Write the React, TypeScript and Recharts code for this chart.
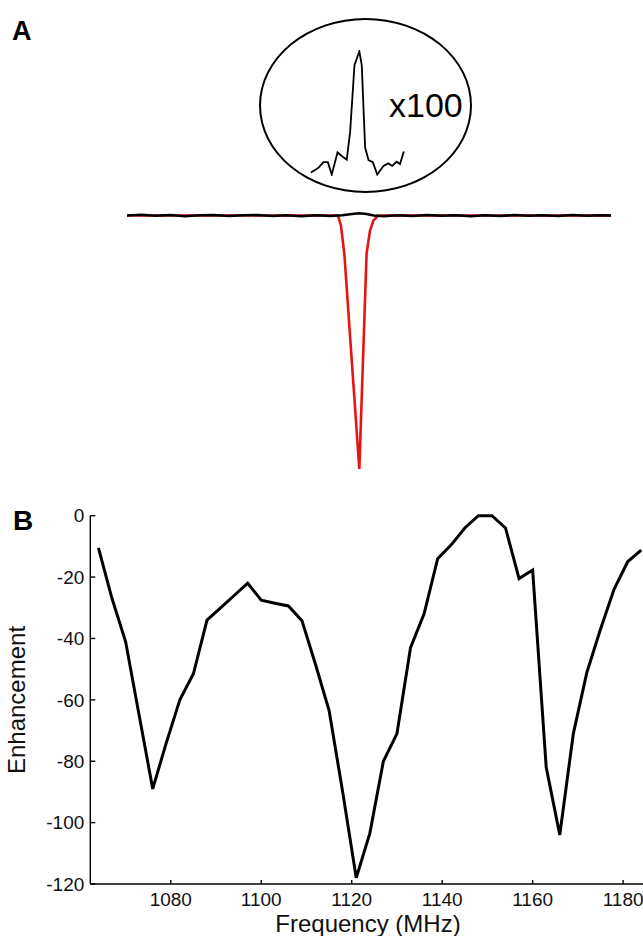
import { Line, LineChart, XAxis, YAxis } from 'recharts'

const FONT = '"Liberation Sans", Arial, sans-serif'

// Panel A: spectra (x = offset from resonance, arbitrary units)
const blackOffset = [-48, -45, -42, -39, -36, -33, -30, -27, -24, -21, -18, -15, -12, -9, -6, -3.5, -1.5, 0, 1.5, 3, 5, 8, 11, 14, 17, 20, 23, 26, 29, 32, 35, 38, 41, 44, 47, 50, 52]
const blackSignal = [0, 0.3, -0.1, 0.2, -0.3, 0.1, 0.2, -0.2, 0.1, 0.2, -0.2, 0.1, -0.3, 0.1, -0.2, 0.1, 0.6, 0.9, 0.6, 0, -0.3, 0.1, -0.2, 0.2, -0.1, 0.1, -0.3, 0.1, -0.2, 0.2, -0.1, 0.1, -0.2, 0.2, -0.1, 0.1, 0]

const redOffset = [-48, -20, -4.4, -3.8, -3.1, 0, 1.5, 2.2, 2.9, 3.9, 20, 52]
const redSignal = [0, 0, 0, -4, -15, -100, -15, -6, -2, 0, 0, 0]

// inset (x100 zoom of black trace)
const insetOffset = [-10, -8.5, -7.4, -6.5, -5.7, -4.5, -3.5, -2.6, -1.9, -1, 0, 0.5, 1.2, 1.9, 2.8, 3.7, 5, 6, 6.8, 7.7, 8.4, 9.2]
const insetSignal = [2.8, 6.3, 11, 11, 1.2, 18.7, 15.5, 13, 35, 88, 99, 88, 22.6, 12.7, 11, 1.2, 8, 10, 8, 11.3, 9.5, 19.4]

// Panel B
const frequency = [1064, 1067, 1070, 1073, 1076, 1079, 1082, 1085, 1088, 1091, 1094, 1097, 1100, 1103, 1106, 1109, 1112, 1115, 1118, 1121, 1124, 1127, 1130, 1133, 1136, 1139, 1142, 1145, 1148, 1151, 1154, 1157, 1160, 1163, 1166, 1169, 1172, 1175, 1178, 1181, 1184]
const enhancement = [-10.5, -27, -41, -65, -89, -74, -60, -51.5, -34, -30, -26, -22, -27.5, -28.5, -29.4, -34.2, -48.5, -63.5, -90, -118, -103.5, -80, -71, -43, -32, -14, -9.5, -4, 0, 0, -4, -20.5, -17.7, -82, -104, -71, -51, -37, -24, -15, -11.2]
const freqTicks = [1080, 1100, 1120, 1140, 1160, 1180]
const enhTicks = [0, -20, -40, -60, -80, -100, -120]

const zip = (xs: number[], ys: number[]) => xs.map((x, i) => ({ x, v: ys[i] }))

const blackData = zip(blackOffset, blackSignal)
const redData = zip(redOffset, redSignal)
const insetData = zip(insetOffset, insetSignal)
const bData = frequency.map((f, i) => ({ f, v: enhancement[i] }))

const abs = (top: number, height: number) => ({ position: 'absolute' as const, left: 0, top, width: 643, height })

export default function App() {
  return (
    <div style={{ position: 'absolute', left: 0, top: 0, width: 643, height: 936, background: '#fff', overflow: 'hidden' }}>
      {/* inset frame */}
      <div
        style={{
          position: 'absolute',
          left: 259,
          top: 18,
          width: 213,
          height: 175,
          border: '2.5px solid #000',
          borderRadius: '50%',
          boxSizing: 'border-box',
        }}
      />
      <div style={abs(0, 200)}>
        <LineChart width={643} height={200} data={insetData} margin={{ top: 50, right: 32, bottom: 24, left: 127 }}>
          <XAxis hide type="number" dataKey="x" domain={[-48, 52]} allowDataOverflow />
          <YAxis hide type="number" domain={[0, 100]} allowDataOverflow />
          <Line dataKey="v" stroke="#000" strokeWidth={1.8} dot={false} isAnimationActive={false} />
        </LineChart>
      </div>

      <div style={abs(0, 480)}>
        <LineChart width={643} height={480} margin={{ top: 205.4, right: 32, bottom: 11, left: 127 }}>
          <XAxis hide type="number" dataKey="x" domain={[-48, 52]} allowDataOverflow />
          <YAxis hide type="number" domain={[-100, 4]} />
          <Line data={redData} dataKey="v" stroke="#e8140f" strokeWidth={2.6} dot={false} isAnimationActive={false} />
          <Line data={blackData} dataKey="v" stroke="#000" strokeWidth={2.6} dot={false} isAnimationActive={false} />
        </LineChart>
      </div>

      <div style={abs(490, 446)}>
        <LineChart width={643} height={446} data={bData} margin={{ top: 25.7, right: 0, bottom: 22, left: 40.3 }}>
          <XAxis
            type="number"
            dataKey="f"
            domain={[1062.2, 1184.4]}
            allowDataOverflow
            ticks={freqTicks}
            interval={0}
            height={30}
            tickSize={-4}
            tickMargin={13}
            stroke="#000"
            strokeWidth={1.4}
            tick={{ fontSize: 19, fill: '#111', fontFamily: FONT }}
          />
          <YAxis
            type="number"
            domain={[-120, 0]}
            ticks={enhTicks}
            interval={0}
            width={50}
            tickSize={-5}
            tickMargin={11}
            stroke="#000"
            strokeWidth={1.4}
            tick={{ fontSize: 19, fill: '#111', fontFamily: FONT }}
          />
          <Line dataKey="v" stroke="#000" strokeWidth={3} dot={false} isAnimationActive={false} />
        </LineChart>
      </div>

      <svg style={{ position: 'absolute', left: 0, top: 0, pointerEvents: 'none' }} width={643} height={936} fontFamily={FONT}>
        <text x={12} y={40} fontSize={27} fontWeight="bold" fill="#000">A</text>
        <text x={13} y={530} fontSize={28} fontWeight="bold" fill="#000">B</text>
        <text x={389} y={117} fontSize={34} fill="#000">x100</text>
        <text x={368} y={932} fontSize={24} textAnchor="middle" fill="#111">Frequency (MHz)</text>
        <text x={25} y={700} fontSize={24} textAnchor="middle" fill="#111" transform="rotate(-90 25 700)">Enhancement</text>
      </svg>
    </div>
  )
}
